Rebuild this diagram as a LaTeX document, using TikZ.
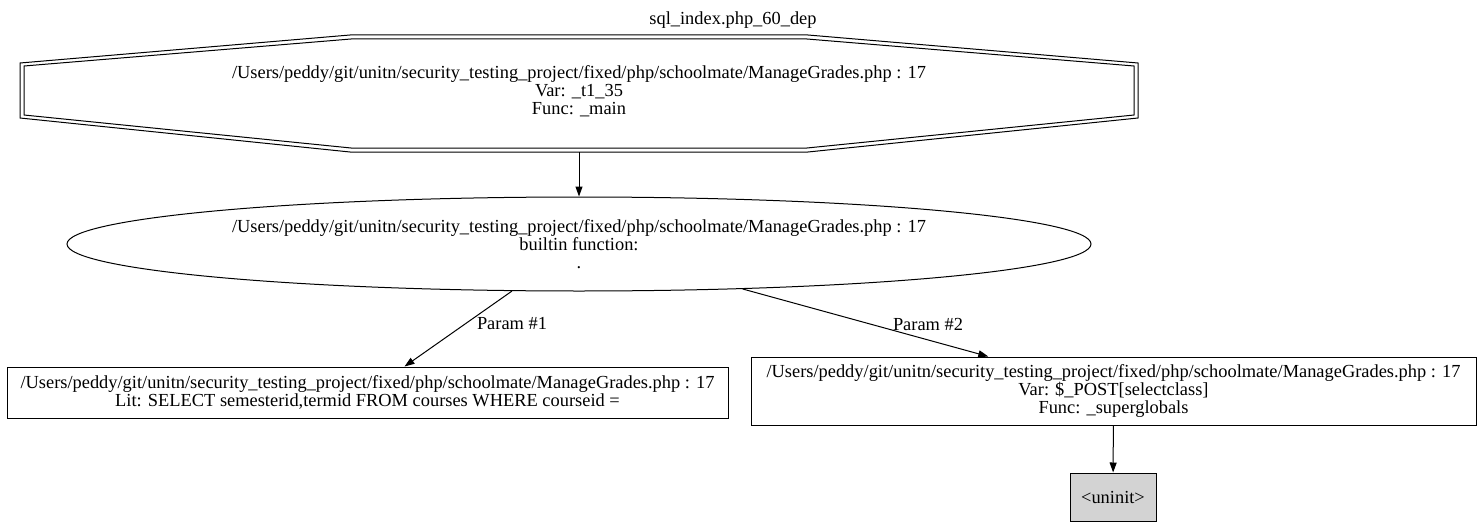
\documentclass[tikz,border=0pt]{standalone}
\usepackage{fontspec}
\setmainfont{Liberation Serif}
\usetikzlibrary{arrows.meta,shapes.geometric}
\tikzset{
  lbl/.style={font=\fontsize{18.4}{18}\selectfont, align=center, inner sep=0pt},
  boxnode/.style={lbl, draw, line width=1pt, rectangle},
  ellnode/.style={lbl, draw, line width=1pt, ellipse},
  conn/.style={line width=1pt, -{Triangle[length=10pt,width=7pt]}},
  octline/.style={line width=1pt}
}
\begin{document}
\begin{tikzpicture}[x=1pt,y=-1pt]
\useasboundingbox (0,0) rectangle (1480,527);
% title
\node[lbl] (title) at (733,20) {sql\_index.php\_60\_dep};
% octagon (double border)
\draw[octline] (350,35) -- (808,35) -- (1138,63) -- (1138,118) -- (808,152) -- (350,152) -- (20,118) -- (20,63) -- cycle;
\draw[octline] (351,39) -- (807,39) -- (1134,66) -- (1134,115) -- (807,148) -- (351,148) -- (24,115) -- (24,66) -- cycle;
\node[lbl] (top) at (579,91) {/Users/peddy/git/unitn/security\_testing\_project/fixed/php/schoolmate/ManageGrades.php : 17\\Var: \_t1\_35\\Func: \_main};
\coordinate (topb) at (579,152);
% ellipse
\node[ellnode, minimum width=1024pt, minimum height=94pt] (ell) at (579,244) {/Users/peddy/git/unitn/security\_testing\_project/fixed/php/schoolmate/ManageGrades.php : 17\\builtin function:\\.};
% boxes
\node[boxnode, minimum width=721pt, minimum height=51pt] (lit) at (367.5,392.5) {/Users/peddy/git/unitn/security\_testing\_project/fixed/php/schoolmate/ManageGrades.php : 17\\Lit: SELECT semesterid,termid FROM courses WHERE courseid =};
\node[boxnode, minimum width=725pt, minimum height=68pt] (post) at (1113.5,391) {/Users/peddy/git/unitn/security\_testing\_project/fixed/php/schoolmate/ManageGrades.php : 17\\Var: \$\_POST[selectclass]\\Func: \_superglobals};
\node[boxnode, fill={rgb,255:red,211;green,211;blue,211}, minimum width=86pt, minimum height=48pt] (uninit) at (1113,497) {<uninit>};
% edge labels
\node[lbl] (p1) at (512,324) {Param \#1};
\node[lbl] (p2) at (928,324) {Param \#2};
% connectors
\draw[conn] (topb) -- (ell);
\draw[conn] (ell) -- (lit);
\draw[conn] (ell) -- (post);
\draw[conn] (post) -- (uninit);
\end{tikzpicture}
\end{document}
